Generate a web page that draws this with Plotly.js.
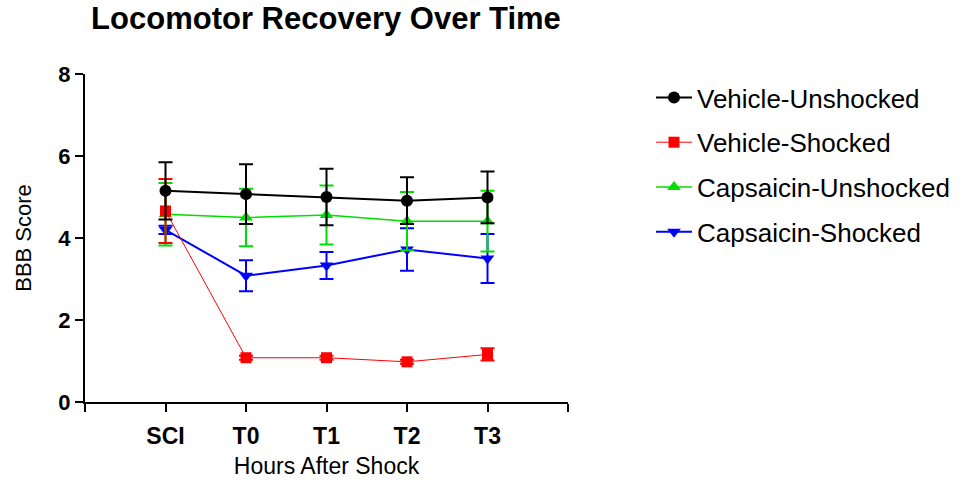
<!DOCTYPE html>
<html>
<head>
<meta charset="utf-8">
<script src="https://cdn.plot.ly/plotly-3.0.1.min.js"></script>
<style>html,body{margin:0;padding:0;background:#fff;}#chart{width:965px;height:480px;}</style>
</head>
<body>
<div id="chart"></div>
<script>
const categories = ["SCI", "T0", "T1", "T2", "T3"];
const vehicleUnshocked = [5.15, 5.07, 5.0, 4.91, 4.99];
const vehicleUnshockedErr = [0.7, 0.73, 0.69, 0.57, 0.63];
const vehicleShocked = [4.66, 1.08, 1.08, 0.98, 1.16];
const vehicleShockedErr = [0.78, 0.05, 0.05, 0.05, 0.15];
const capsUnshocked = [4.58, 4.5, 4.56, 4.41, 4.41];
const capsUnshockedErr = [0.76, 0.7, 0.72, 0.71, 0.74];
const capsShocked = [4.2, 3.08, 3.33, 3.72, 3.5];
const capsShockedErr = [0.1, 0.38, 0.33, 0.52, 0.6];

const xIdx = categories.map((c, i) => i);
const font = "Liberation Sans, Arial, sans-serif";

function tr(name, y, err, color, symbol, size, lw, rank) {
  return {
    x: xIdx, y: y, name: name, type: "scatter", mode: "lines+markers",
    line: {color: color, width: lw},
    marker: {color: color, symbol: symbol, size: size},
    error_y: {type: "data", array: err, visible: true, color: color, thickness: 2, width: 7},
    legendrank: rank, legendgroup: name
  };
}

const data = [
  tr("Capsaicin-Shocked", capsShocked, capsShockedErr, "#0000ff", "triangle-down", 12, 2, 4),
  tr("Capsaicin-Unshocked", capsUnshocked, capsUnshockedErr, "#00dd00", "triangle-up", 12, 1.5, 3),
  tr("Vehicle-Shocked", vehicleShocked, vehicleShockedErr, "#ff0000", "square", 11, 1, 2),
  tr("Vehicle-Unshocked", vehicleUnshocked, vehicleUnshockedErr, "#000000", "circle", 12, 2, 1)
];

const layout = {
  width: 965, height: 480,
  margin: {l: 85, r: 397, t: 74, b: 78, autoexpand: false},
  paper_bgcolor: "#fff", plot_bgcolor: "#fff",
  font: {family: font, color: "#000"},
  title: {text: "<b>Locomotor Recovery Over Time</b>", font: {size: 31, family: font, color: "#000"},
          x: 326 / 965, xanchor: "center", xref: "container", y: 1 - 18 / 480, yanchor: "middle"},
  xaxis: {
    range: [-1, 5], tickvals: [-1, 0, 1, 2, 3, 4, 5], ticktext: ["", "<b>SCI</b>", "<b>T0</b>", "<b>T1</b>", "<b>T2</b>", "<b>T3</b>", ""],
    showgrid: false, zeroline: false, showline: true, linecolor: "#000", linewidth: 2,
    ticks: "outside", ticklen: 8, tickwidth: 2, tickcolor: "#000", ticklabelstandoff: 4,
    tickfont: {size: 23, family: font, color: "#000"},
    title: {text: "Hours After Shock", font: {size: 23, family: font, color: "#000"}, standoff: 10}
  },
  yaxis: {
    range: [0, 8], tickvals: [0, 2, 4, 6, 8], ticktext: ["<b>0</b>", "<b>2</b>", "<b>4</b>", "<b>6</b>", "<b>8</b>"],
    showgrid: false, zeroline: false, showline: true, linecolor: "#000", linewidth: 2,
    ticks: "outside", ticklen: 8, tickwidth: 2, tickcolor: "#000",
    tickfont: {size: 22, family: font, color: "#000"},
    title: {text: "BBB Score", font: {size: 22, family: font, color: "#000"}, standoff: 21}
  },
  legend: {
    x: (651 - 85) / 483, xanchor: "left", y: 1 + (74 - 74) / 328, yanchor: "top",
    font: {size: 26, family: font, color: "#000"},
    traceorder: "grouped", tracegroupgap: 8, itemwidth: 36,
    bgcolor: "rgba(0,0,0,0)"
  },
  showlegend: true
};

Plotly.newPlot("chart", data, layout, {displayModeBar: false, staticPlot: true});
</script>
</body>
</html>
